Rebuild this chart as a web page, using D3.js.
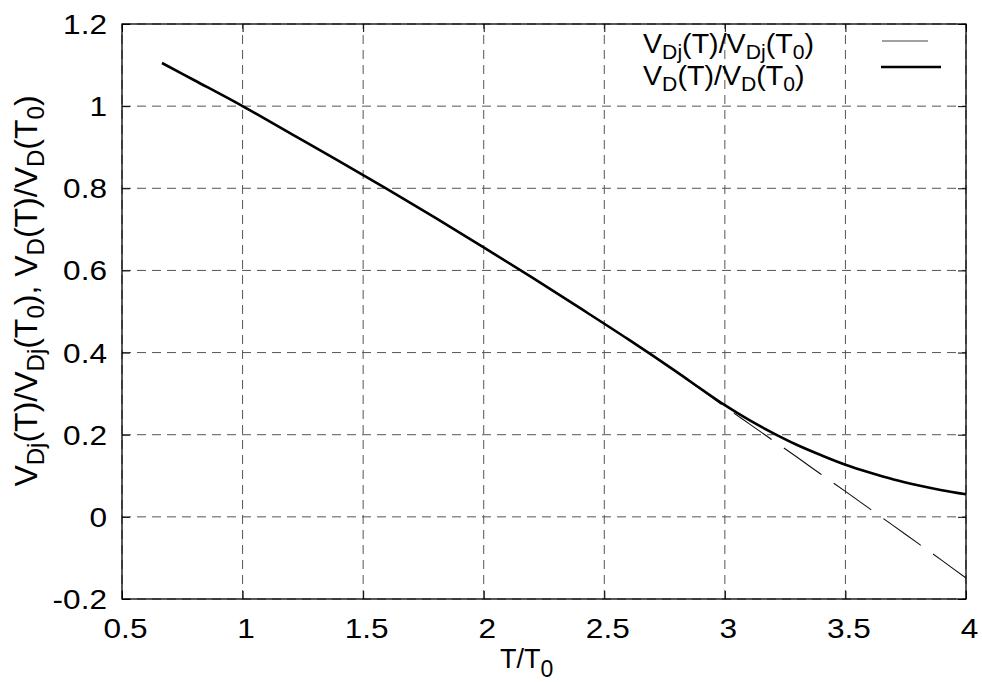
<!DOCTYPE html>
<html>
<head>
<meta charset="utf-8">
<script src="https://cdn.jsdelivr.net/npm/d3@7"></script>
<style>
  body { margin: 0; background: #fff; }
  svg { display: block; font-family: "Liberation Sans", Arial, sans-serif; }
</style>
</head>
<body>
<svg width="982" height="682"></svg>
<script>
// T/T0 sample points
const tRatio = [0.666, 0.8, 1.0, 1.2, 1.4, 1.6, 1.8, 2.0, 2.2, 2.4, 2.6, 2.8, 2.9, 3.0,
                3.1, 3.2, 3.3, 3.4, 3.5, 3.6, 3.7, 3.8, 3.9, 4.0];
// V_D(T)/V_D(T0), solid
const vdRatio = [1.105, 1.063, 1.0, 0.933, 0.866, 0.798, 0.728, 0.656, 0.583, 0.508, 0.432, 0.353, 0.312, 0.272,
                 0.236, 0.204, 0.175, 0.150, 0.127, 0.108, 0.091, 0.077, 0.065, 0.055];
// V_Dj(T)/V_Dj(T0), dashed
const vdjRatio = [1.105, 1.063, 1.0, 0.933, 0.866, 0.798, 0.728, 0.656, 0.583, 0.508, 0.432, 0.352, 0.310, 0.268,
                  0.227, 0.186, 0.145, 0.103, 0.062, 0.020, -0.022, -0.064, -0.106, -0.149];

const xTicks = [0.5, 1, 1.5, 2, 2.5, 3, 3.5, 4];
const xTickLabels = ["0.5", "1", "1.5", "2", "2.5", "3", "3.5", "4"];
const yTicks = [-0.2, 0, 0.2, 0.4, 0.6, 0.8, 1, 1.2];
const yTickLabels = ["-0.2", "0", "0.2", "0.4", "0.6", "0.8", "1", "1.2"];

const svg = d3.select('svg');
const mLeft = 122, mRight = 966, mTop = 24, mBottom = 599;

const x = d3.scaleLinear().domain([0.5, 4]).range([mLeft, mRight]);
const y = d3.scaleLinear().domain([-0.2, 1.2]).range([mBottom, mTop]);

// grid
const grid = svg.append('g')
  .attr('stroke', '#555').attr('stroke-width', 1).attr('stroke-dasharray', '9,6');
grid.selectAll('.gx').data(xTicks).enter().append('line')
  .attr('x1', d => x(d)).attr('x2', d => x(d))
  .attr('y1', mBottom).attr('y2', mTop);
grid.selectAll('.gy').data(yTicks).enter().append('line')
  .attr('y1', d => y(d)).attr('y2', d => y(d))
  .attr('x1', mLeft).attr('x2', mRight);

// axes (ticks inward, mirrored)
const sx = 1.17;
const xAxis = svg.append('g').attr('transform', `translate(0,${mBottom})`)
  .call(d3.axisBottom(x).tickValues(xTicks).tickSizeInner(-8).tickSizeOuter(0)
    .tickFormat((d, i) => xTickLabels[i]));
xAxis.selectAll('text')
  .attr('y', 39).attr('dy', null)
  .attr('x', 3 / sx)
  .attr('transform', `scale(${sx},1)`)
  .style('font-size', '27px').attr('fill', '#000');

const yAxis = svg.append('g').attr('transform', `translate(${mLeft},0)`)
  .call(d3.axisLeft(y).tickValues(yTicks).tickSizeInner(-8).tickSizeOuter(0)
    .tickFormat((d, i) => yTickLabels[i]));
yAxis.selectAll('text')
  .attr('x', -15 / sx).attr('dy', '0.35em')
  .attr('transform', `scale(${sx},1)`)
  .style('font-size', '27px').attr('fill', '#000');

svg.append('g').attr('transform', `translate(0,${mTop})`)
  .call(d3.axisTop(x).tickValues(xTicks).tickSizeInner(-8).tickSizeOuter(0).tickFormat(''));
svg.append('g').attr('transform', `translate(${mRight},0)`)
  .call(d3.axisRight(y).tickValues(yTicks).tickSizeInner(-8).tickSizeOuter(0).tickFormat(''));
svg.selectAll('.domain').remove();
svg.selectAll('.tick line').attr('stroke', '#000');

// frame
svg.append('rect')
  .attr('x', mLeft).attr('y', mTop)
  .attr('width', mRight - mLeft).attr('height', mBottom - mTop)
  .attr('fill', 'none').attr('stroke', '#000').attr('stroke-width', 1.3);

// curves
const idx = d3.range(tRatio.length);
const lineOf = vals => d3.line()
  .x(i => x(tRatio[i])).y(i => y(vals[i]))
  .curve(d3.curveCatmullRom.alpha(0.5));

svg.append('path').datum(idx)
  .attr('d', lineOf(vdjRatio))
  .attr('fill', 'none').attr('stroke', '#111').attr('stroke-width', 1.1)
  .attr('stroke-dasharray', '46,15');

svg.append('path').datum(idx)
  .attr('d', lineOf(vdRatio))
  .attr('fill', 'none').attr('stroke', '#000').attr('stroke-width', 2.6);

// text with subscripts: parts are [string, isSub]
function richText(sel, parts, size, subSize, subShift) {
  let shifted = false;
  parts.forEach(p => {
    const sub = p[1] === 1;
    let dy = 0;
    if (sub && !shifted) { dy = subShift; shifted = true; }
    if (!sub && shifted) { dy = -subShift; shifted = false; }
    sel.append('tspan')
      .text(p[0])
      .attr('dy', dy)
      .style('font-size', (sub ? subSize : size) + 'px');
  });
}

const legDj = [["V", 0], ["Dj", 1], ["(T)/V", 0], ["Dj", 1], ["(T", 0], ["0", 1], [")", 0]];
const legD = [["V", 0], ["D", 1], ["(T)/V", 0], ["D", 1], ["(T", 0], ["0", 1], [")", 0]];

// legend
const leg1 = svg.append('text').attr('transform', 'translate(643,53) scale(1.06,1)');
richText(leg1, legDj, 27, 20, 6);
const leg2 = svg.append('text').attr('transform', 'translate(643,85) scale(1.06,1)');
richText(leg2, legD, 27, 20, 6);

svg.append('line')
  .attr('x1', 882).attr('x2', 941).attr('y1', 41).attr('y2', 41)
  .attr('stroke', '#444').attr('stroke-width', 1.1).attr('stroke-dasharray', '46,15');
svg.append('line')
  .attr('x1', 881).attr('x2', 941).attr('y1', 67).attr('y2', 67)
  .attr('stroke', '#000').attr('stroke-width', 2.6);

// x label
const xl = svg.append('text').attr('x', 500).attr('y', 668);
richText(xl, [["T/T", 0], ["0", 1]], 27, 23, 9);

// y label
const yl = svg.append('text')
  .attr('transform', 'translate(37,291) rotate(-90)')
  .attr('text-anchor', 'middle');
richText(yl, [["V", 0], ["Dj", 1], ["(T)/V", 0], ["Dj", 1], ["(T", 0], ["0", 1], ["), V", 0],
              ["D", 1], ["(T)/V", 0], ["D", 1], ["(T", 0], ["0", 1], [")", 0]], 32, 24, 7);
</script>
</body>
</html>
